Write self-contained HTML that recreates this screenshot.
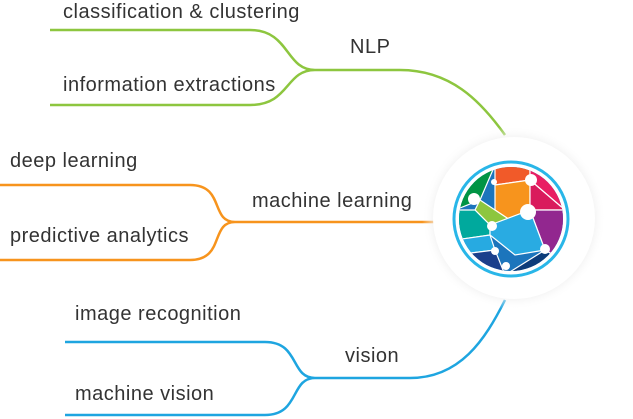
<!DOCTYPE html>
<html><head><style>
html,body{margin:0;padding:0;background:#fff;}
body{width:633px;height:419px;overflow:hidden;position:relative;font-family:"Liberation Sans",sans-serif;}
svg{position:absolute;left:0;top:0;}
text{font-family:"Liberation Sans",sans-serif;font-size:20px;letter-spacing:0.5px;fill:#333;}
</style></head><body>
<svg width="633" height="419" viewBox="0 0 633 419">
<defs>
<radialGradient id="sh" cx="0.5" cy="0.5" r="0.5">
<stop offset="0.8" stop-color="#e6e6e6"/><stop offset="1" stop-color="#fff" stop-opacity="0"/>
</radialGradient>
<clipPath id="g"><circle cx="511" cy="219" r="52"/></clipPath>
</defs>
<g fill="none" stroke-width="2.5">
<path d="M50 30 H250 C290 30 285 70 315 70 C285 70 290 105 250 105 H50" stroke="#8dc63f"/>
<path d="M315 70 H400 C450 70 480 100 505 135" stroke="#8dc63f"/>
<path d="M0 185 H190 C225 185 210 222 235 222 C210 222 225 260 190 260 H0" stroke="#f7941d"/>
<path d="M235 222 H435" stroke="#f7941d"/>
<path d="M65 342 H265 C300 342 290 378 315 378 C290 378 300 415 265 415 H65" stroke="#1ea5e0"/>
<path d="M315 378 H410 C460 378 485 340 505 300" stroke="#1ea5e0"/>
</g>
<circle cx="514" cy="218" r="92" fill="url(#sh)"/>
<circle cx="514" cy="218" r="81" fill="#fff"/>
<circle cx="511" cy="219" r="57" fill="none" stroke="#29b6e8" stroke-width="3"/>
<g clip-path="url(#g)" stroke="#fff" stroke-width="1.2">
<rect x="455" y="165" width="115" height="110" fill="#1c75bc"/>
<polygon points="455,165 495,165 480,200 455,210" fill="#009444"/>
<polygon points="495,165 530,165 530,180 495,185" fill="#f15a29"/>
<polygon points="530,165 570,165 570,210 565,210 530,180" fill="#e91e63"/>
<polygon points="495,185 530,180 530,210 510,220 495,210" fill="#f7941d"/>
<polygon points="480,200 495,210 510,220 490,225 475,210" fill="#8dc63f"/>
<polygon points="455,210 475,210 490,225 490,235 455,240" fill="#00a99d"/>
<polygon points="530,180 565,210 530,210" fill="#d91b5c"/>
<polygon points="530,210 570,210 570,265 545,250" fill="#92278f"/>
<polygon points="490,225 530,210 545,250 515,255 490,235" fill="#29abe2"/>
<polygon points="455,240 490,235 495,250 455,255" fill="#27aae1"/>
<polygon points="455,255 495,250 505,275 455,275" fill="#1b3f8b"/>
<polygon points="505,275 545,250 570,265 570,275" fill="#0d3c7a"/>
</g>
<g fill="#fff">
<circle cx="531" cy="180" r="6"/><circle cx="474" cy="199" r="6"/><circle cx="528" cy="212" r="8"/>
<circle cx="492" cy="226" r="5"/><circle cx="495" cy="251" r="4"/><circle cx="545" cy="249" r="5"/>
<circle cx="506" cy="266" r="4"/><circle cx="494" cy="182" r="3"/>
</g>
<text x="63" y="18">classification &amp; clustering</text>
<text x="350" y="53">NLP</text>
<text x="63" y="91">information extractions</text>
<text x="10" y="167">deep learning</text>
<text x="252" y="207">machine learning</text>
<text x="10" y="242">predictive analytics</text>
<text x="75" y="320">image recognition</text>
<text x="345" y="362">vision</text>
<text x="75" y="400">machine vision</text>
</svg>
</body></html>
